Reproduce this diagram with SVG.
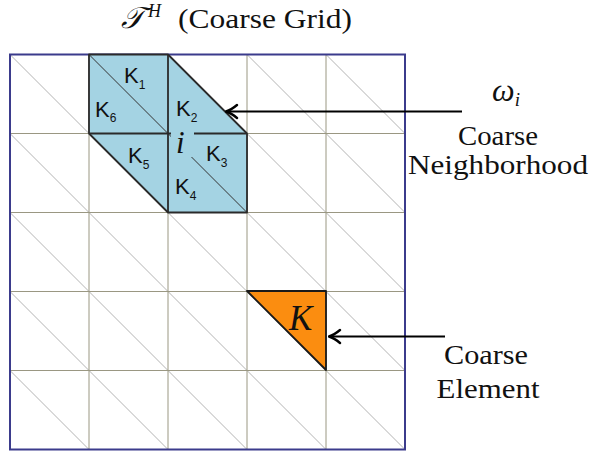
<svg xmlns="http://www.w3.org/2000/svg" width="589" height="454" viewBox="0 0 589 454">
<style>
.grid{stroke:#9a9782;stroke-width:1;fill:none}
.diag{stroke:#b4b4b4;stroke-width:1;fill:none}
.border{stroke:#3b3b8c;stroke-width:2;fill:none}
.dark{stroke:#2a2a2a;stroke-width:1.8;fill:none;stroke-linejoin:round}
.thin{stroke:#333;stroke-width:1;fill:none}
.serif{font-family:"Liberation Serif","DejaVu Serif",serif;fill:#111}
.sans{font-family:"Liberation Sans",Arial,sans-serif;fill:#111}
.k{font-size:22px}
.sub{font-size:12px}
.conn{stroke:#000;stroke-width:2;fill:none}
</style>
<defs>
<marker id="arr" markerUnits="userSpaceOnUse" markerWidth="20" markerHeight="20" refX="19" refY="10" orient="auto" viewBox="0 0 20 20">
<path d="M8,3.5 Q14,8.5 19,10 Q14,11.5 8,16.5" fill="none" stroke="#000" stroke-width="2.4" stroke-linecap="round" stroke-linejoin="round"/>
</marker>
</defs>
<rect width="589" height="454" fill="#fff"/>
<g id="grid">
<g class="diag">
<path d="M10,54.5L89,133.5M89,54.5L168,133.5M168,54.5L247,133.5M247,54.5L326,133.5M326,54.5L405,133.5
M10,133.5L89,212.5M89,133.5L168,212.5M168,133.5L247,212.5M247,133.5L326,212.5M326,133.5L405,212.5
M10,212.5L89,291.5M89,212.5L168,291.5M168,212.5L247,291.5M247,212.5L326,291.5M326,212.5L405,291.5
M10,291.5L89,370.5M89,291.5L168,370.5M168,291.5L247,370.5M247,291.5L326,370.5M326,291.5L405,370.5
M10,370.5L89,449.5M89,370.5L168,449.5M168,370.5L247,449.5M247,370.5L326,449.5M326,370.5L405,449.5"/>
</g>
<path class="grid" d="M89,54.5V449.5M168,54.5V449.5M247,54.5V449.5M326,54.5V449.5M10,133.5H405M10,212.5H405M10,291.5H405M10,370.5H405"/>
<rect class="border" x="10" y="54.5" width="395" height="395"/>
</g>
<g id="neighborhood">
<polygon points="89,54.5 168,54.5 247,133.5 247,212.5 168,212.5 89,133.5" fill="#a4d3e3"/>
<path class="thin" d="M89,54.5L168,133.5M168,133.5L247,212.5"/>
<path class="dark" d="M168,54.5V212.5M89,133.5H247"/>
<polygon class="dark" points="89,54.5 168,54.5 247,133.5 247,212.5 168,212.5 89,133.5"/>
<rect x="171" y="132" width="23" height="25" fill="#a4d3e3"/>
<text class="serif" x="176" y="153" font-size="31" font-style="italic">i</text>
<text class="sans k" x="124" y="83">K<tspan class="sub" dy="6">1</tspan></text>
<text class="sans k" x="95" y="117">K<tspan class="sub" dy="5">6</tspan></text>
<text class="sans k" x="176" y="116">K<tspan class="sub" dy="6">2</tspan></text>
<text class="sans k" x="128" y="163">K<tspan class="sub" dy="6">5</tspan></text>
<text class="sans k" x="206" y="161">K<tspan class="sub" dy="6">3</tspan></text>
<text class="sans k" x="175" y="194">K<tspan class="sub" dy="6">4</tspan></text>
</g>
<g id="element">
<polygon points="247,291 326,291 326,370" fill="#fb8d10" stroke="#1a1a1a" stroke-width="1.8" stroke-linejoin="round"/>
<text class="serif" x="289" y="330" font-size="35" font-style="italic">K</text>
</g>
<g id="title">
<text class="serif" x="121" y="28" font-size="30" font-style="italic">𝒯</text>
<text class="serif" x="148" y="17" font-size="18" font-style="italic">H</text>
<text class="serif" x="178" y="28" font-size="28" textLength="174" lengthAdjust="spacingAndGlyphs">(Coarse Grid)</text>
</g>
<g id="label-neighborhood">
<text class="serif" x="506" y="101" font-size="32" font-style="italic" text-anchor="middle">ω<tspan font-size="19" dy="5">i</tspan></text>
<text class="serif" x="498" y="145" font-size="28" textLength="80" lengthAdjust="spacingAndGlyphs" text-anchor="middle">Coarse</text>
<text class="serif" x="498" y="174" font-size="28" textLength="180" lengthAdjust="spacingAndGlyphs" text-anchor="middle">Neighborhood</text>
</g>
<g id="label-element">
<text class="serif" x="486" y="364" font-size="28" textLength="84" lengthAdjust="spacingAndGlyphs" text-anchor="middle">Coarse</text>
<text class="serif" x="488" y="398" font-size="28" textLength="103" lengthAdjust="spacingAndGlyphs" text-anchor="middle">Element</text>
</g>
<g id="connectors">
<line class="conn" x1="462" y1="111.5" x2="226" y2="111.5" marker-end="url(#arr)"/>
<line class="conn" x1="445" y1="336.5" x2="329" y2="336.5" marker-end="url(#arr)"/>
</g>
</svg>
